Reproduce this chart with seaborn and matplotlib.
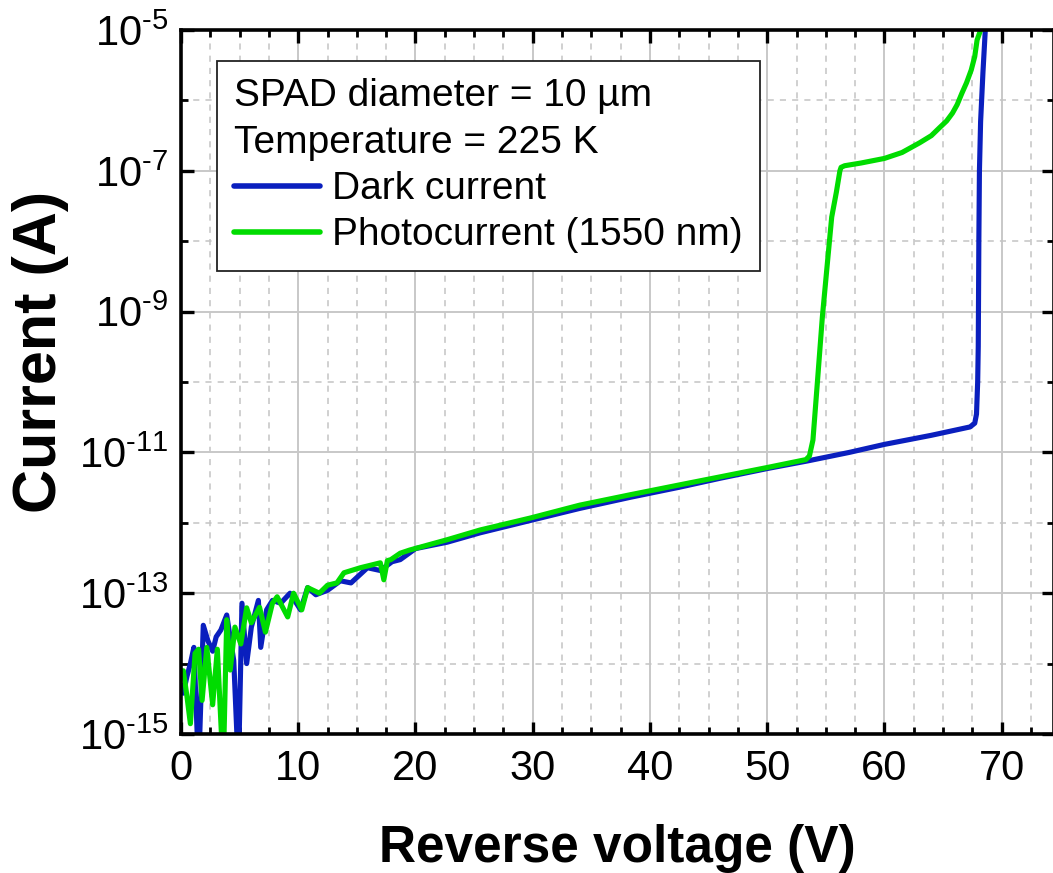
import numpy as np
import pandas as pd
import matplotlib
matplotlib.use("Agg")
import matplotlib.pyplot as plt
import matplotlib.ticker as mticker
import seaborn as sns

# ---------------- data ----------------
dark_v = [0.0, 0.2, 0.5, 0.8, 1.1, 1.5, 1.9, 2.3, 2.7, 3.0, 3.4, 3.9, 4.5, 4.9,
          5.2, 5.6, 6.0, 6.6, 6.8, 7.3, 7.8, 8.5, 9.3, 10.2, 10.8, 11.5, 12.5,
          13.6, 14.5, 15.9, 17.0, 18.0, 18.7, 20.0, 22.7, 25.5, 30.0, 34.0,
          38.3, 42.5, 46.0, 50.0, 53.5, 57.0, 60.0, 64.0, 67.3, 67.7, 67.85,
          67.95, 68.0, 68.05, 68.1, 68.2, 68.4, 68.6, 68.8]
dark_i = [5.0e-15, 3.8e-15, 6.5e-15, 1.0e-14, 1.7e-14, 3e-16, 3.5e-14, 2.1e-14,
          1.5e-14, 2.4e-14, 3.0e-14, 4.9e-14, 1.1e-14, 3e-16, 7.2e-14, 1.0e-14,
          3.3e-14, 7.9e-14, 1.7e-14, 5.8e-14, 7.9e-14, 7.2e-14, 1.0e-13, 5.8e-14,
          1.2e-13, 9.5e-14, 1.1e-13, 1.5e-13, 1.4e-13, 2.3e-13, 2.1e-13, 2.8e-13,
          3.0e-13, 4.3e-13, 5.3e-13, 7.2e-13, 1.1e-12, 1.6e-12, 2.3e-12, 3.2e-12,
          4.3e-12, 5.9e-12, 7.6e-12, 1.0e-11, 1.3e-11, 1.75e-11, 2.3e-11, 2.6e-11,
          3.5e-11, 1.0e-10, 3.2e-10, 1.0e-8, 1.0e-7, 5.0e-7, 2.5e-6, 1.0e-5, 1.6e-5]

photo_v = [0.0, 0.2, 0.5, 0.8, 1.2, 1.5, 1.8, 2.2, 2.7, 3.1, 3.6, 3.9, 4.2, 4.6,
           5.1, 5.6, 6.0, 6.7, 7.2, 7.8, 8.2, 9.1, 9.6, 10.3, 10.8, 11.8, 12.5,
           13.3, 13.9, 15.3, 17.0, 17.3, 17.6, 17.9, 18.7, 19.5, 22.7, 25.5, 29.8,
           34.0, 38.3, 42.5, 46.0, 50.0, 53.3, 53.6, 53.9, 54.3, 54.7, 55.1, 55.5,
           55.9, 56.2, 56.3, 56.6, 58.0, 60.0, 61.5, 63.0, 64.0, 64.7, 65.3, 65.8,
           66.2, 66.6, 67.0, 67.4, 67.7, 67.9, 68.2, 68.5]
photo_i = [7.9e-15, 7.9e-15, 3.5e-15, 1.4e-15, 1.4e-14, 1.6e-14, 3.0e-15, 1.7e-14,
           2.6e-15, 1.6e-14, 3e-16, 4.2e-14, 8.1e-15, 3.3e-14, 1.9e-14, 6.2e-14,
           3.8e-14, 6.3e-14, 2.8e-14, 7.2e-14, 8.9e-14, 4.6e-14, 1.0e-13, 5.8e-14,
           1.2e-13, 1.0e-13, 1.3e-13, 1.4e-13, 1.95e-13, 2.3e-13, 2.7e-13, 1.55e-13,
           2.9e-13, 3.0e-13, 3.7e-13, 4.1e-13, 5.75e-13, 7.9e-13, 1.17e-12, 1.78e-12,
           2.5e-12, 3.45e-12, 4.5e-12, 6.1e-12, 7.9e-12, 8.9e-12, 1.5e-11, 1.1e-10,
           8.3e-10, 4.3e-9, 2.2e-8, 5.0e-8, 1.0e-7, 1.12e-7, 1.18e-7, 1.29e-7, 1.5e-7,
           1.82e-7, 2.5e-7, 3.16e-7, 4.1e-7, 5.1e-7, 6.6e-7, 8.7e-7, 1.26e-6, 1.78e-6,
           2.7e-6, 4.2e-6, 7.2e-6, 1.0e-5, 1.4e-5]

series_labels = ["Dark current", "Photocurrent (1550 nm)"]
legend_title = "SPAD diameter = 10 \u00b5m\nTemperature = 225 K"
x_label = "Reverse voltage (V)"
y_label = "Current (A)"
x_ticks = [0, 10, 20, 30, 40, 50, 60, 70]
y_exponents = [-15, -13, -11, -9, -7, -5]
y_minor_exponents = [-14, -12, -10, -8, -6]

BLUE = "#0a1fbe"
GREEN = "#00dc00"

# ---------------- style ----------------
sns.set_theme(style="ticks")
plt.rcParams["font.family"] = ["Liberation Sans", "DejaVu Sans"]
plt.rcParams["mathtext.fontset"] = "custom"
plt.rcParams["mathtext.rm"] = "Liberation Sans"
plt.rcParams["mathtext.it"] = "Liberation Sans:italic"
plt.rcParams["mathtext.bf"] = "Liberation Sans:bold"
for k in ["text.color", "axes.labelcolor", "xtick.color", "ytick.color",
          "xtick.labelcolor", "ytick.labelcolor", "axes.edgecolor"]:
    plt.rcParams[k] = "black"

fig = plt.figure(figsize=(10.53, 8.73), dpi=100)
ax = fig.add_axes([181 / 1053, 139 / 873, 873 / 1053, 704 / 873])

df_dark = pd.DataFrame({"V": dark_v, "I": dark_i})
df_photo = pd.DataFrame({"V": photo_v, "I": photo_i})

sns.lineplot(data=df_dark, x="V", y="I", color=BLUE, lw=3.7, sort=False,
             estimator=None, ax=ax, label=series_labels[0])
sns.lineplot(data=df_photo, x="V", y="I", color=GREEN, lw=3.7, sort=False,
             estimator=None, ax=ax, label=series_labels[1])
for ln in ax.get_lines():
    ln.set_solid_joinstyle("round")
    ln.set_solid_capstyle("round")

ax.set_yscale("log")
ax.set_xlim(0, 74.46)
ax.set_ylim(1e-15, 1e-5)

ax.xaxis.set_major_locator(mticker.FixedLocator(x_ticks))
ax.xaxis.set_minor_locator(mticker.MultipleLocator(2.5))
ax.yaxis.set_major_locator(mticker.FixedLocator([10.0 ** e for e in y_exponents]))
ax.yaxis.set_minor_locator(mticker.FixedLocator([10.0 ** e for e in y_minor_exponents]))
ax.yaxis.set_major_formatter(mticker.FuncFormatter(
    lambda v, p: r"$10^{\text{-}%d}$" % int(round(-np.log10(v)))))
ax.yaxis.set_minor_formatter(mticker.NullFormatter())

ax.set_axisbelow(True)
ax.grid(which="major", color="#c8c8c8", lw=1.4, ls="-")
ax.grid(which="minor", color="#c4c4c4", lw=1.1, ls=(0, (4, 4)))

ax.tick_params(which="both", direction="in", top=True, right=True,
               labeltop=False, labelright=False, colors="black")
ax.tick_params(which="major", length=9, width=2.4, labelsize=30)
ax.tick_params(axis="x", which="major", pad=11)
ax.tick_params(axis="y", which="major", pad=9)
ax.tick_params(which="minor", length=5, width=2.0)
for s in ax.spines.values():
    s.set_linewidth(2.6)
    s.set_color("black")

ax.set_xlabel(x_label, fontsize=37, fontweight="bold")
ax.set_ylabel(y_label, fontsize=44, fontweight="bold")
ax.xaxis.set_label_coords(0.5, -0.128)
ax.yaxis.set_label_coords(-0.128, 0.543)

leg = ax.legend(title=legend_title, alignment="left", loc="upper left",
                bbox_to_anchor=(0.041, 0.956), borderaxespad=0,
                fontsize=28, title_fontsize=28, frameon=True, fancybox=False,
                handlelength=2.2, handletextpad=0.3, labelspacing=0.26,
                borderpad=0.45, framealpha=1)
leg.get_title().set_linespacing(1.38)
leg.get_frame().set_edgecolor("#222222")
leg.get_frame().set_linewidth(1.3)
for h in leg.get_lines():
    h.set_linewidth(4)

fig.savefig("out.png", dpi=100)
